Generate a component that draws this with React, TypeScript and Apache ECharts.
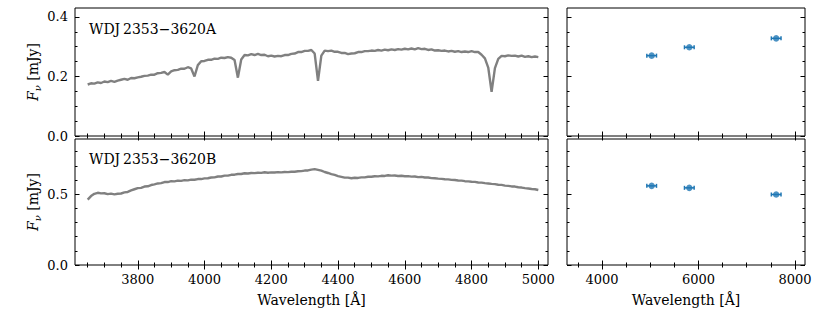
import React, { useEffect, useRef } from "react";
import * as echarts from "echarts";

// ---- data ----
const specWaveStart = 3650;
const specWaveStep = 10;
const fluxA = [
  0.173, 0.177, 0.176, 0.180, 0.178, 0.183, 0.181, 0.185, 0.182, 0.186,
  0.189, 0.192, 0.189, 0.195, 0.194, 0.197, 0.199, 0.202, 0.203, 0.206,
  0.206, 0.211, 0.212, 0.215, 0.206, 0.217, 0.221, 0.222, 0.226, 0.226,
  0.231, 0.227, 0.200, 0.238, 0.251, 0.252, 0.256, 0.256, 0.260, 0.259,
  0.263, 0.262, 0.265, 0.263, 0.255, 0.196, 0.257, 0.272, 0.271, 0.275,
  0.272, 0.276, 0.272, 0.273, 0.268, 0.270, 0.267, 0.269, 0.268, 0.272,
  0.272, 0.276, 0.277, 0.282, 0.282, 0.286, 0.286, 0.289, 0.277, 0.185,
  0.270, 0.287, 0.285, 0.287, 0.283, 0.283, 0.279, 0.279, 0.275, 0.277,
  0.278, 0.282, 0.282, 0.285, 0.285, 0.287, 0.286, 0.289, 0.287, 0.290,
  0.288, 0.291, 0.289, 0.292, 0.290, 0.293, 0.291, 0.294, 0.291, 0.295,
  0.292, 0.293, 0.289, 0.291, 0.287, 0.288, 0.286, 0.287, 0.284, 0.286,
  0.283, 0.285, 0.282, 0.284, 0.282, 0.285, 0.282, 0.282, 0.273, 0.261,
  0.230, 0.148, 0.228, 0.259, 0.269, 0.268, 0.271, 0.269, 0.270, 0.267,
  0.270, 0.266, 0.268, 0.265, 0.267, 0.265,
];
const fluxB = [
  0.462, 0.487, 0.503, 0.510, 0.506, 0.507, 0.501, 0.504, 0.499, 0.503,
  0.505, 0.513, 0.516, 0.527, 0.535, 0.543, 0.545, 0.554, 0.556, 0.565,
  0.570, 0.576, 0.578, 0.586, 0.586, 0.592, 0.591, 0.596, 0.594, 0.599,
  0.598, 0.603, 0.602, 0.607, 0.607, 0.612, 0.613, 0.618, 0.619, 0.625,
  0.625, 0.631, 0.631, 0.637, 0.638, 0.643, 0.643, 0.648, 0.646, 0.650,
  0.649, 0.652, 0.651, 0.655, 0.652, 0.654, 0.653, 0.656, 0.654, 0.657,
  0.656, 0.659, 0.659, 0.662, 0.663, 0.667, 0.668, 0.674, 0.677, 0.672,
  0.667, 0.657, 0.650, 0.642, 0.636, 0.628, 0.623, 0.617, 0.617, 0.613,
  0.616, 0.615, 0.619, 0.619, 0.623, 0.623, 0.627, 0.626, 0.630, 0.629,
  0.634, 0.631, 0.632, 0.629, 0.630, 0.627, 0.628, 0.624, 0.625, 0.621,
  0.622, 0.618, 0.618, 0.614, 0.613, 0.610, 0.608, 0.606, 0.605, 0.601,
  0.600, 0.597, 0.596, 0.592, 0.591, 0.588, 0.587, 0.583, 0.582, 0.578,
  0.576, 0.573, 0.571, 0.567, 0.566, 0.561, 0.559, 0.555, 0.554, 0.549,
  0.547, 0.543, 0.540, 0.537, 0.535, 0.530,
];
const photWave = [5030, 5810, 7610];
const photWaveErr = [100, 100, 100];
const photFluxA = [0.27, 0.298, 0.328];
const photFluxB = [0.559, 0.545, 0.498];
const panelLabels = ["WDJ\u20092353\u22123620A", "WDJ\u20092353\u22123620B"];

const specXMajor = [3800, 4000, 4200, 4400, 4600, 4800, 5000];
const specXMinor = [3650, 3700, 3750, 3850, 3900, 3950, 4050, 4100, 4150, 4250, 4300, 4350, 4450, 4500, 4550, 4650, 4700, 4750, 4850, 4900, 4950];
const photXMajor = [4000, 6000, 8000];
const photXMinor = [3500, 4500, 5000, 5500, 6500, 7000, 7500];
const yMajorA = [0, 0.2, 0.4];
const yMinorA = [0.05, 0.1, 0.15, 0.25, 0.3, 0.35];
const yMajorB = [0, 0.5];
const yMinorB = [0.1, 0.2, 0.3, 0.4, 0.6, 0.7, 0.8];

const FONT = "DejaVu Serif";
const TICK_SIZE = 13;
const NAME_SIZE = 14;
const GREY = "#808080";
const BLUE = "#1f77b4";

function tick(vals: number[], len: number) {
  return { show: true, inside: true, length: len, customValues: vals, lineStyle: { color: "#000", width: 1 } };
}

function makeX(grid: number, min: number, max: number, majors: number[], minors: number[], labels: boolean) {
  const base: any = { type: "value", gridIndex: grid, min, max, splitLine: { show: false }, axisLine: { show: false } };
  const first: any = {
    ...base,
    position: "bottom",
    axisTick: tick(majors, 4.5),
    axisLabel: labels
      ? {
          show: true,
          customValues: majors,
          margin: 8,
          fontFamily: FONT,
          fontSize: TICK_SIZE,
          color: "#000",
          formatter: (v: number) => String(v),
        }
      : { show: false },
  };
  if (labels) {
    first.name = "{a|Wavelength [\u00C5]}";
    first.nameLocation = "middle";
    first.nameGap = 28;
    first.nameMoveOverlap = false;
    first.nameTextStyle = {
      fontFamily: FONT,
      fontSize: NAME_SIZE,
      color: "#000",
      rich: { a: { fontFamily: FONT, fontSize: NAME_SIZE, color: "#000" } },
    };
  }
  return [
    first,
    { ...base, position: "bottom", axisTick: tick(minors, 2.5), axisLabel: { show: false } },
    { ...base, position: "top", axisTick: tick(majors, 4.5), axisLabel: { show: false } },
    { ...base, position: "top", axisTick: tick(minors, 2.5), axisLabel: { show: false } },
  ];
}

function makeY(grid: number, max: number, majors: number[], minors: number[], labels: boolean) {
  const base: any = { type: "value", gridIndex: grid, min: 0, max, splitLine: { show: false }, axisLine: { show: false } };
  const first: any = {
    ...base,
    position: "left",
    axisTick: tick(majors, 4.5),
    axisLabel: labels
      ? {
          show: true,
          customValues: majors,
          margin: 7,
          fontFamily: FONT,
          fontSize: TICK_SIZE,
          color: "#000",
          formatter: (v: number) => v.toFixed(1),
        }
      : { show: false },
  };
  if (labels) {
    first.name = "{f|F}{s|\u03BD} [mJy]";
    first.nameLocation = "middle";
    first.nameRotate = 90;
    first.nameGap = 33;
    first.nameMoveOverlap = false;
    first.nameTextStyle = {
      fontFamily: FONT,
      fontSize: NAME_SIZE,
      color: "#000",
      rich: {
        f: { fontFamily: FONT, fontSize: NAME_SIZE, fontStyle: "italic", color: "#000" },
        s: { fontFamily: FONT, fontSize: 10, fontStyle: "italic", color: "#000", padding: [8, 0, 0, 0], verticalAlign: "bottom" },
      },
    };
  }
  return [
    first,
    { ...base, position: "left", axisTick: tick(minors, 2.5), axisLabel: { show: false } },
    { ...base, position: "right", axisTick: tick(majors, 4.5), axisLabel: { show: false } },
    { ...base, position: "right", axisTick: tick(minors, 2.5), axisLabel: { show: false } },
  ];
}

function errRender(params: any, api: any) {
  const x = api.value(0);
  const y = api.value(1);
  const e = api.value(2);
  const p0 = api.coord([x - e, y]);
  const p1 = api.coord([x + e, y]);
  const c = 2;
  const st = { stroke: BLUE, lineWidth: 1.5 };
  return {
    type: "group",
    children: [
      { type: "line", shape: { x1: p0[0], y1: p0[1], x2: p1[0], y2: p1[1] }, style: st },
      { type: "line", shape: { x1: p0[0], y1: p0[1] - c, x2: p0[0], y2: p0[1] + c }, style: st },
      { type: "line", shape: { x1: p1[0], y1: p1[1] - c, x2: p1[0], y2: p1[1] + c }, style: st },
    ],
  };
}

export default function App() {
  const ref = useRef<HTMLDivElement>(null);
  useEffect(() => {
    if (!ref.current) return;
    const chart = echarts.init(ref.current, undefined, { renderer: "svg" });
    const specA = fluxA.map((f, i) => [specWaveStart + specWaveStep * i, f]);
    const specB = fluxB.map((f, i) => [specWaveStart + specWaveStep * i, f]);
    const gridBase = { show: true, borderColor: "#000", borderWidth: 1, backgroundColor: "transparent", containLabel: false };
    const xAxes = [
      ...makeX(0, 3612, 5029, specXMajor, specXMinor, false),
      ...makeX(1, 3276, 8207, photXMajor, photXMinor, false),
      ...makeX(2, 3612, 5029, specXMajor, specXMinor, true),
      ...makeX(3, 3276, 8207, photXMajor, photXMinor, true),
    ];
    const yAxes = [
      ...makeY(0, 0.43, yMajorA, yMinorA, true),
      ...makeY(1, 0.43, yMajorA, yMinorA, false),
      ...makeY(2, 0.89, yMajorB, yMinorB, true),
      ...makeY(3, 0.89, yMajorB, yMinorB, false),
    ];
    chart.setOption({
      animation: false,
      textStyle: { fontFamily: FONT },
      grid: [
        { ...gridBase, left: 75, top: 8, width: 473, height: 128 },
        { ...gridBase, left: 567, top: 8, width: 238, height: 128 },
        { ...gridBase, left: 75, top: 139, width: 473, height: 126 },
        { ...gridBase, left: 567, top: 139, width: 238, height: 126 },
      ],
      xAxis: xAxes,
      yAxis: yAxes,
      graphic: [
        {
          type: "text", x: 89, y: 28.5,
          style: { text: panelLabels[0], fontFamily: FONT, fontSize: 14, fill: "#000", verticalAlign: "middle" },
        },
        {
          type: "text", x: 89, y: 158.5,
          style: { text: panelLabels[1], fontFamily: FONT, fontSize: 14, fill: "#000", verticalAlign: "middle" },
        },
      ],
      series: [
        {
          type: "line", xAxisIndex: 0, yAxisIndex: 0, data: specA, showSymbol: false, symbol: "none",
          lineStyle: { color: GREY, width: 2.4 }, silent: true,
        },
        {
          type: "line", xAxisIndex: 8, yAxisIndex: 8, data: specB, showSymbol: false, symbol: "none",
          lineStyle: { color: GREY, width: 2.4 }, silent: true,
        },
        {
          type: "custom", xAxisIndex: 4, yAxisIndex: 4, renderItem: errRender,
          data: photWave.map((w, i) => [w, photFluxA[i], photWaveErr[i]]), silent: true,
        },
        {
          type: "scatter", xAxisIndex: 4, yAxisIndex: 4, symbol: "circle", symbolSize: 6.5,
          itemStyle: { color: BLUE }, data: photWave.map((w, i) => [w, photFluxA[i]]), silent: true,
        },
        {
          type: "custom", xAxisIndex: 12, yAxisIndex: 12, renderItem: errRender,
          data: photWave.map((w, i) => [w, photFluxB[i], photWaveErr[i]]), silent: true,
        },
        {
          type: "scatter", xAxisIndex: 12, yAxisIndex: 12, symbol: "circle", symbolSize: 6.5,
          itemStyle: { color: BLUE }, data: photWave.map((w, i) => [w, photFluxB[i]]), silent: true,
        },
      ],
    });
    return () => chart.dispose();
  }, []);
  return <div ref={ref} style={{ width: 830, height: 312, position: "absolute", left: 0, top: 0, background: "#fff" }} />;
}
